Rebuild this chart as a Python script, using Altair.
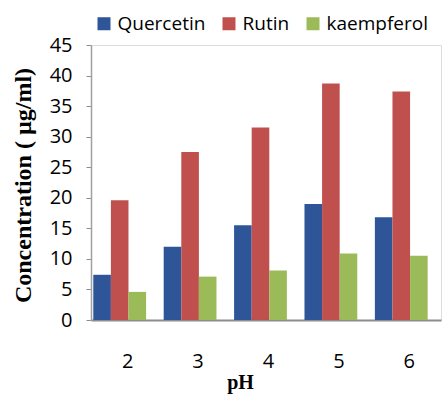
import altair as alt
import pandas as pd

ph = ["2", "3", "4", "5", "6"]
series = ["Quercetin", "Rutin", "kaempferol"]
quercetin = [7.4, 12.0, 15.5, 19.0, 16.8]
rutin = [19.6, 27.5, 31.5, 38.7, 37.4]
kaempferol = [4.6, 7.1, 8.1, 10.9, 10.5]
colors = ["#2E5597", "#C0504D", "#9BBB59"]

rows = []
for name, vals in zip(series, [quercetin, rutin, kaempferol]):
    for p, v in zip(ph, vals):
        rows.append({"pH": p, "series": name, "value": v})
df = pd.DataFrame(rows)

chart = alt.Chart(df).mark_bar().encode(
    x=alt.X(
        "pH:N",
        sort=ph,
        scale=alt.Scale(paddingInner=0.25, paddingOuter=0.111, align=0.147),
        axis=alt.Axis(
            title="pH",
            titleFont="Liberation Serif",
            titleFontSize=20,
            titleFontWeight="bold",
            titleColor="black",
            titleX=149,
            titleY=68,
            titleBaseline="alphabetic",
            labelFont="Open Sans",
            labelFontSize=20,
            labelColor="black",
            labelAngle=0,
            labelPadding=31,
            labelOffset=8,
            ticks=False,
            domainColor="#8c8c8c",
            domainWidth=2,
        ),
    ),
    xOffset=alt.XOffset("series:N", sort=series, scale=alt.Scale(paddingInner=0, paddingOuter=0)),
    y=alt.Y(
        "value:Q",
        scale=alt.Scale(domain=[0, 45], nice=False),
        axis=alt.Axis(
            title="Concentration ( µg/ml)",
            titleFont="Liberation Serif",
            titleFontSize=24,
            titleFontWeight="bold",
            titleColor="black",
            titleX=-61,
            titleY=140,
            titleAngle=-90,
            titleBaseline="alphabetic",
            titleAlign="center",
            values=list(range(0, 50, 5)),
            labelFont="Open Sans",
            labelFontSize=20,
            labelColor="black",
            labelPadding=14,
            tickSize=5,
            tickColor="#8c8c8c",
            domainColor="#a0a0a0",
            domainWidth=1.5,
            grid=False,
        ),
    ),
    color=alt.Color(
        "series:N",
        sort=series,
        scale=alt.Scale(domain=series, range=colors),
        legend=alt.Legend(
            orient="none",
            direction="horizontal",
            legendX=3.5,
            legendY=-31,
            title=None,
            symbolType="square",
            symbolSize=169,
            symbolStrokeWidth=0,
            labelFont="Open Sans",
            labelFontSize=19,
            labelColor="black",
            labelOffset=4,
            columnPadding=14,
        ),
    ),
).properties(
    width=350,
    height=275,
    autosize=alt.AutoSizeParams(type="none"),
    padding={"left": 91, "top": 45, "right": 1, "bottom": 74},
).configure_view(stroke=None).configure(background="white")

chart.save("out.html", embed_options={"renderer": "svg", "actions": False})
